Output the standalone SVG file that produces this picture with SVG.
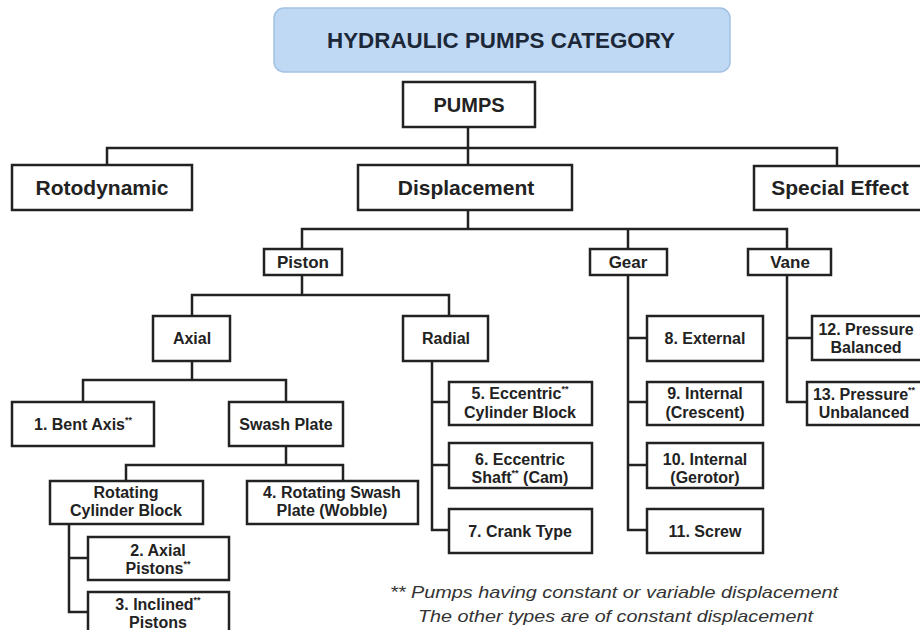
<svg xmlns="http://www.w3.org/2000/svg" width="920" height="630" viewBox="0 0 920 630">
<style>
  .box { fill: #ffffff; stroke: #222222; stroke-width: 2.5; }
  .ln { fill: none; stroke: #222222; stroke-width: 2.5; stroke-linecap: square; }
  text { font-family: "Liberation Sans", Arial, sans-serif; font-weight: bold; fill: #222222; text-anchor: middle; }
  .l1 { font-size: 20px; }
  .l2 { font-size: 21px; }
  .l3 { font-size: 17px; }
  .l4 { font-size: 16px; }
  .sup { font-size: 9px; }
  .note { font-weight: normal; font-style: italic; font-size: 17px; fill: #333333; text-anchor: start; }
</style>
<rect width="920" height="630" fill="#ffffff"/>

<g id="title">
  <rect x="274" y="8" width="456" height="64" rx="10" fill="#bfd8f4" stroke="#a3c2e3" stroke-width="1.5"/>
  <text x="501" y="48" style="font-size:22px;fill:#1c2838" textLength="348" lengthAdjust="spacingAndGlyphs">HYDRAULIC PUMPS CATEGORY</text>
</g>

<g id="connectors">
  <path class="ln" d="M468,127 V165 M107,148 H837 M107,148 V165 M837,148 V166"/>
  <path class="ln" d="M468,210 V229 M302,229 H787 M302,229 V249 M628,229 V249 M787,229 V249"/>
  <path class="ln" d="M302,275 V295 M192,295 H449 M192,295 V316 M449,295 V316"/>
  <path class="ln" d="M192,361 V380 M83,380 H286 M83,380 V402 M286,380 V402"/>
  <path class="ln" d="M286,446 V465 M126,465 H343 M126,465 V481 M343,465 V481"/>
  <path class="ln" d="M69,524 V612 M69,558 H88 M69,612 H88"/>
  <path class="ln" d="M432,361 V530 M432,402 H449 M432,465 H449 M432,530 H449"/>
  <path class="ln" d="M628,275 V530 M628,338 H647 M628,402 H647 M628,465 H647 M628,530 H647"/>
  <path class="ln" d="M787,275 V402 M787,338 H812 M787,402 H807"/>
</g>

<g id="pumps">
  <rect class="box" x="403" y="82" width="132" height="45"/>
  <text class="l1" x="469" y="112">PUMPS</text>
</g>
<g id="rotodynamic">
  <rect class="box" x="12" y="165" width="180" height="45"/>
  <text class="l2" x="102" y="195">Rotodynamic</text>
</g>
<g id="displacement">
  <rect class="box" x="358" y="165" width="214" height="45"/>
  <text class="l2" x="466" y="195">Displacement</text>
</g>
<g id="special-effect">
  <rect class="box" x="754" y="166" width="172" height="44"/>
  <text class="l2" x="840" y="195">Special Effect</text>
</g>

<g id="piston">
  <rect class="box" x="264" y="249" width="78" height="26"/>
  <text class="l3" x="303" y="268">Piston</text>
</g>
<g id="gear">
  <rect class="box" x="590" y="249" width="77" height="26"/>
  <text class="l3" x="628" y="268">Gear</text>
</g>
<g id="vane">
  <rect class="box" x="748" y="249" width="83" height="26"/>
  <text class="l3" x="790" y="268">Vane</text>
</g>

<g id="axial">
  <rect class="box" x="153" y="316" width="77" height="45"/>
  <text class="l4" x="192" y="344">Axial</text>
</g>
<g id="radial">
  <rect class="box" x="403" y="316" width="85" height="45"/>
  <text class="l4" x="446" y="344">Radial</text>
</g>

<g id="bent-axis">
  <rect class="box" x="12" y="402" width="142" height="44"/>
  <text class="l4" x="83" y="430">1. Bent Axis<tspan class="sup" dy="-7">**</tspan></text>
</g>
<g id="swash-plate">
  <rect class="box" x="229" y="402" width="114" height="44"/>
  <text class="l4" x="286" y="430">Swash Plate</text>
</g>

<g id="rotating-cylinder-block">
  <rect class="box" x="50" y="481" width="153" height="43"/>
  <text class="l4" x="126" y="498">Rotating</text>
  <text class="l4" x="126" y="516">Cylinder Block</text>
</g>
<g id="rotating-swash-plate">
  <rect class="box" x="247" y="481" width="171" height="43"/>
  <text class="l4" x="332" y="498">4. Rotating Swash</text>
  <text class="l4" x="332" y="516">Plate (Wobble)</text>
</g>

<g id="axial-pistons">
  <rect class="box" x="88" y="537" width="141" height="43"/>
  <text class="l4" x="158" y="556">2. Axial</text>
  <text class="l4" x="158" y="574">Pistons<tspan class="sup" dy="-7">**</tspan></text>
</g>
<g id="inclined-pistons">
  <rect class="box" x="88" y="592" width="141" height="50"/>
  <text class="l4" x="158" y="610">3. Inclined<tspan class="sup" dy="-7">**</tspan></text>
  <text class="l4" x="158" y="628">Pistons</text>
</g>

<g id="eccentric-cylinder-block">
  <rect class="box" x="449" y="382" width="143" height="43"/>
  <text class="l4" x="520" y="399">5. Eccentric<tspan class="sup" dy="-7">**</tspan></text>
  <text class="l4" x="520" y="418">Cylinder Block</text>
</g>
<g id="eccentric-shaft">
  <rect class="box" x="449" y="443" width="143" height="45"/>
  <text class="l4" x="520" y="465">6. Eccentric</text>
  <text class="l4" x="520" y="483">Shaft<tspan class="sup" dy="-7">**</tspan><tspan dy="7"> (Cam)</tspan></text>
</g>
<g id="crank-type">
  <rect class="box" x="449" y="509" width="143" height="44"/>
  <text class="l4" x="520" y="537">7. Crank Type</text>
</g>

<g id="external">
  <rect class="box" x="647" y="316" width="116" height="45"/>
  <text class="l4" x="705" y="344">8. External</text>
</g>
<g id="internal-crescent">
  <rect class="box" x="647" y="382" width="116" height="43"/>
  <text class="l4" x="705" y="399">9. Internal</text>
  <text class="l4" x="705" y="418">(Crescent)</text>
</g>
<g id="internal-gerotor">
  <rect class="box" x="647" y="443" width="116" height="45"/>
  <text class="l4" x="705" y="465">10. Internal</text>
  <text class="l4" x="705" y="483">(Gerotor)</text>
</g>
<g id="screw">
  <rect class="box" x="647" y="509" width="116" height="44"/>
  <text class="l4" x="705" y="537">11. Screw</text>
</g>

<g id="pressure-balanced">
  <rect class="box" x="812" y="316" width="115" height="44"/>
  <text class="l4" x="866" y="335">12. Pressure</text>
  <text class="l4" x="866" y="353">Balanced</text>
</g>
<g id="pressure-unbalanced">
  <rect class="box" x="807" y="382" width="120" height="43"/>
  <text class="l4" x="864" y="400">13. Pressure<tspan class="sup" dy="-7">**</tspan></text>
  <text class="l4" x="864" y="418">Unbalanced</text>
</g>

<g id="footnote">
  <text class="note" x="390" y="598" textLength="448" lengthAdjust="spacingAndGlyphs">** Pumps having constant or variable displacement</text>
  <text class="note" x="418" y="622" textLength="395" lengthAdjust="spacingAndGlyphs">The other types are of constant displacement</text>
</g>
</svg>
